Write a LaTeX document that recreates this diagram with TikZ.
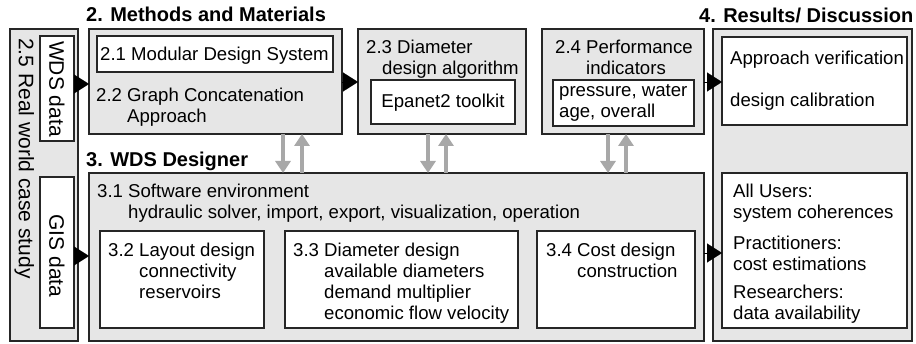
\documentclass[tikz,border=0pt]{standalone}
\usepackage{fontspec}
\setmainfont{Liberation Sans}
\usetikzlibrary{arrows.meta}

\definecolor{boxgray}{RGB}{230,230,230}
\definecolor{arrowgray}{RGB}{168,168,168}
\newcommand{\numind}{\hphantom{0.0\ }}

\begin{document}
\begin{tikzpicture}[
    x=1pt, y=-1pt,
    outerbox/.style={draw=black!85, line width=1.5pt, fill=boxgray, inner sep=0pt, outer sep=0pt, anchor=north west},
    innerbox/.style={outerbox, fill=white},
    txt/.style={anchor=base west, inner sep=0pt, align=left, font=\fontsize{18.6}{21}\selectfont},
    title/.style={anchor=base west, inner sep=0pt, font=\fontsize{20}{24}\selectfont\bfseries},
    side/.style={rotate=-90, inner sep=0pt, font=\fontsize{21}{24}\selectfont},
    blktri/.style={line width=0.1pt, -{Triangle[length=15pt, width=19pt]}},
    grayarrow/.style={draw=arrowgray, line width=4pt, -{Triangle[length=12pt, width=15pt]}, arrowgray}
]
    \useasboundingbox (0,0) rectangle (916,344);

    % outer frames
    \node[outerbox, minimum width=68pt, minimum height=312pt] (case) at (10,29) {};
    \node[outerbox, minimum width=253pt, minimum height=105pt] (meth) at (89,29) {};
    \node[outerbox, minimum width=168pt, minimum height=105pt] (dda) at (358,29) {};
    \node[outerbox, minimum width=162pt, minimum height=105pt] (perf) at (542,29) {};
    \node[outerbox, minimum width=199pt, minimum height=312pt] (res) at (713,29) {};
    \node[outerbox, minimum width=615pt, minimum height=168pt] (des) at (89,173) {};

    % inner boxes
    \node[innerbox, minimum width=34pt, minimum height=105pt] (wdsdata) at (40,36) {};
    \node[innerbox, minimum width=34pt, minimum height=151pt] (gisdata) at (40,177) {};
    \node[innerbox, minimum width=236pt, minimum height=36pt] (mds) at (97,36) {};
    \node[innerbox, minimum width=144pt, minimum height=44pt] (epa) at (371,80) {};
    \node[innerbox, minimum width=141pt, minimum height=46pt] (perfin) at (553,80) {};
    \node[innerbox, minimum width=185pt, minimum height=88pt] (resa) at (722,37) {};
    \node[innerbox, minimum width=185pt, minimum height=155pt] (resb) at (722,173) {};
    \node[innerbox, minimum width=164pt, minimum height=97pt] (lay) at (100,231) {};
    \node[innerbox, minimum width=233pt, minimum height=97pt] (dia) at (285,231) {};
    \node[innerbox, minimum width=158pt, minimum height=97pt] (cost) at (537,231) {};

    % titles
    \node[title] (tmeth) at (86,22) {2. Methods and Materials};
    \node[title] (tdes) at (86,167) {3. WDS Designer};
    \node[title] (tres) at (699,23) {4. Results/ Discussion};

    % side texts
    \node[side, anchor=base west] (tcase) at (19,38) {2.5 Real world case study};
    \node[side] (twds) at (57,89) {WDS data};
    \node[side] (tgis) at (57,256) {GIS data};

    % texts in boxes (multi-line nodes sit on the baseline of their last line)
    \node[txt] (tmds) at (100,61) {2.1 Modular Design System};
    \node[txt] (tgca) at (96,123) {2.2 Graph Concatenation\\\numind Approach};
    \node[txt] (tdda) at (366,75) {2.3 Diameter\\\hspace*{16pt}design algorithm};
    \node[txt, anchor=base] (tepa) at (epa.center |- 0,108) {Epanet2 toolkit};
    \node[txt] (tperf) at (555,75) {2.4 Performance\\\numind indicators};
    \node[txt] (tperfin) at (559,118) {pressure, water\\age, overall};
    \node[txt] (tver) at (730,65) {Approach verification};
    \node[txt] (tcal) at (730,107) {design calibration};
    \node[txt] (tsw) at (97,219) {3.1 Software environment\\\numind hydraulic solver, import, export, visualization, operation};
    \node[txt] (tlay) at (108,299) {3.2 Layout design\\\numind connectivity\\\numind reservoirs};
    \node[txt] (tdia) at (293,320) {3.3 Diameter design\\\numind available diameters\\\numind demand multiplier\\\numind economic flow velocity};
    \node[txt] (tcost) at (546,278) {3.4 Cost design\\\numind construction};
    \node[txt] (tall) at (733,219) {All Users:\\system coherences};
    \node[txt] (tpra) at (733,271) {Practitioners:\\cost estimations};
    \node[txt] (tsea) at (733,320) {Researchers:\\data availability};

    % black flow triangles
    \coordinate (r1) at (0,84);
    \coordinate (r2) at (0,82);
    \coordinate (r3) at (0,256);
    \coordinate (r4) at (0,253);
    \draw[blktri] (wdsdata.east |- r1) -- (meth.west |- r1);
    \draw[blktri] (meth.east |- r2) -- (dda.west |- r2);
    \draw[blktri] (perf.east |- r2) -- (resa.west |- r2);
    \draw[blktri] (gisdata.east |- r3) -- (des.west |- r3);
    \draw[blktri] (des.east |- r4) -- (resb.west |- r4);

    % gray exchange arrows
    \coordinate (c1) at (283,0);
    \coordinate (c2) at (302,0);
    \coordinate (c3) at (428,0);
    \coordinate (c4) at (446,0);
    \coordinate (c5) at (608,0);
    \coordinate (c6) at (626,0);
    \draw[grayarrow] (c1 |- meth.south) -- (c1 |- des.north);
    \draw[grayarrow] (c2 |- des.north) -- (c2 |- meth.south);
    \draw[grayarrow] (c3 |- dda.south) -- (c3 |- des.north);
    \draw[grayarrow] (c4 |- des.north) -- (c4 |- dda.south);
    \draw[grayarrow] (c5 |- perf.south) -- (c5 |- des.north);
    \draw[grayarrow] (c6 |- des.north) -- (c6 |- perf.south);
\end{tikzpicture}
\end{document}
